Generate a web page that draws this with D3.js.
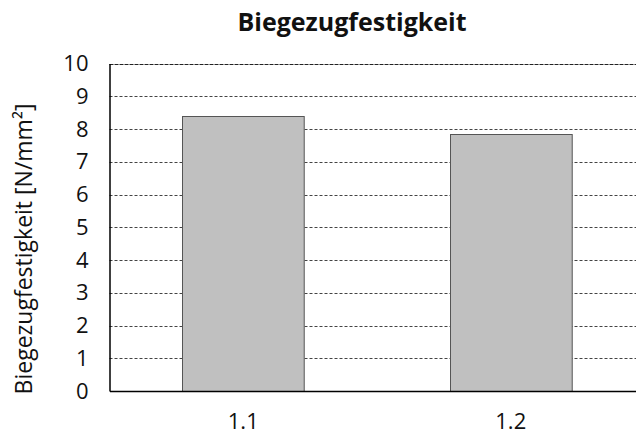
<!DOCTYPE html>
<html><head><meta charset="utf-8">
<script src="https://cdn.jsdelivr.net/npm/d3@7"></script>
<style>body{margin:0;background:#fff}svg{display:block}</style>
</head><body>
<script>
const categories = ["1.1", "1.2"];
const values = [8.39, 7.84];
const yTicks = [0,1,2,3,4,5,6,7,8,9,10];
const title = "Biegezugfestigkeit";
const yLabel = "Biegezugfestigkeit [N/mm²]";

const W = 636, H = 434;
const m = {left: 109.5, top: 63.5, right: 644.5, bottom: 391};
const font = "'Open Sans', 'Noto Sans', sans-serif";

const svg = d3.select("body").append("svg").attr("width", W).attr("height", H);

const x = d3.scaleBand().domain(categories).range([m.left, m.right])
  .paddingInner(0.545).paddingOuter(0.2725);
const y = d3.scaleLinear().domain([0, 10]).range([m.bottom, m.top]);

// gridlines
svg.append("g").selectAll("line").data(yTicks.filter(d => d > 0)).join("line")
  .attr("x1", m.left).attr("x2", m.right)
  .attr("y1", d => Math.round(y(d)) + 0.5).attr("y2", d => Math.round(y(d)) + 0.5)
  .attr("stroke", d => d === 10 ? "#222" : "#444")
  .attr("stroke-width", 1)
  .attr("stroke-dasharray", d => d === 10 ? "4,1" : "3,2");

// bars
svg.append("g").selectAll("rect").data(values).join("rect")
  .attr("x", (d, i) => Math.round(x(categories[i])) + 0.5)
  .attr("y", d => Math.round(y(d)) + 0.5)
  .attr("width", x.bandwidth())
  .attr("height", d => Math.round(y(0)) - Math.round(y(d)))
  .attr("fill", "#c0c0c0")
  .attr("stroke", "#555")
  .attr("stroke-width", 1);

// axes
const yAxis = svg.append("g").attr("transform", `translate(${m.left},0)`)
  .call(d3.axisLeft(y).tickValues(yTicks).tickSize(0).tickPadding(21).tickFormat(d3.format("d")));
yAxis.select(".domain").attr("stroke", "#000").attr("stroke-width", 1.5);
yAxis.selectAll("text").attr("font-family", font).attr("font-size", 22).attr("fill", "#111");

const xAxis = svg.append("g").attr("transform", `translate(0,${m.bottom})`)
  .call(d3.axisBottom(x).tickSize(0).tickPadding(22));
xAxis.select(".domain").attr("stroke", "#000").attr("stroke-width", 1.5);
xAxis.selectAll("text").attr("font-family", font).attr("font-size", 22).attr("fill", "#111");

// title
svg.append("text").attr("x", 352).attr("y", 31).attr("text-anchor", "middle")
  .attr("font-family", font).attr("font-weight", "bold").attr("font-size", 25)
  .attr("fill", "#111").text(title);

// y label
svg.append("text").attr("transform", `translate(32,249) rotate(-90)`)
  .attr("text-anchor", "middle").attr("font-family", font).attr("font-size", 23)
  .attr("fill", "#111").text(yLabel);
</script>
</body></html>
